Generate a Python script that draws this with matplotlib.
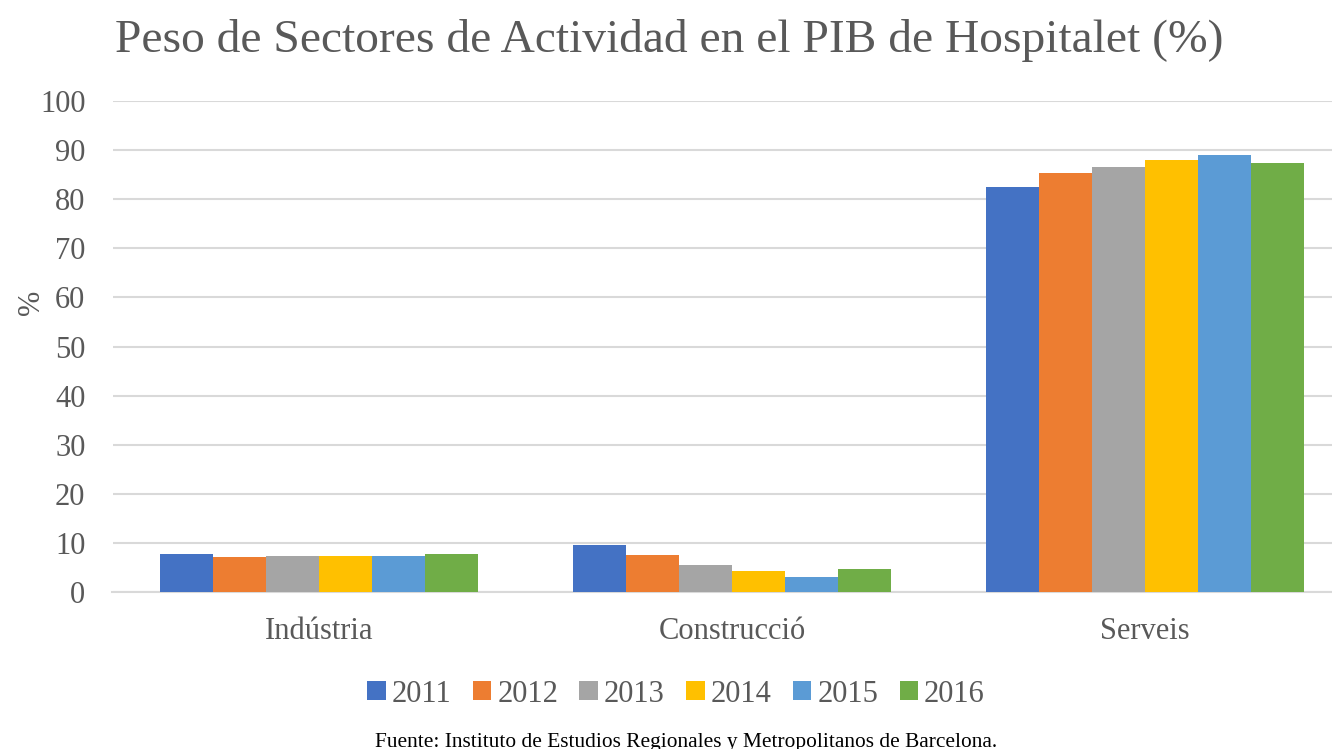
import numpy as np
import matplotlib.pyplot as plt

# Data
sectores = ["Indústria", "Construcció", "Serveis"]
anios = ["2011", "2012", "2013", "2014", "2015", "2016"]
v2011 = [7.7, 9.6, 82.4]
v2012 = [7.1, 7.5, 85.3]
v2013 = [7.4, 5.5, 86.5]
v2014 = [7.4, 4.3, 87.9]
v2015 = [7.4, 3.0, 89.0]
v2016 = [7.7, 4.6, 87.3]
series = [v2011, v2012, v2013, v2014, v2015, v2016]
colores = ["#4472c4", "#ed7d31", "#a5a5a5", "#ffc000", "#5b9bd5", "#70ad47"]

plt.rcParams['font.family'] = ['Liberation Serif', 'DejaVu Serif']

fig = plt.figure(figsize=(13.32, 7.49), dpi=100)
W, H = 1332, 749
# axes spans beyond the right edge (the reference is cropped there)
ax = fig.add_axes([112.5 / W, 1 - 592 / H, 1239 / W, 491 / H])

x = np.arange(len(sectores))
bw = 0.128
for i, (vals, col) in enumerate(zip(series, colores)):
    ax.bar(x + (i - 2.5) * bw, vals, width=bw, color=col, label=anios[i], zorder=3)

ax.set_xlim(-0.5, 2.5)
ax.set_ylim(0, 100)
ax.set_yticks(range(0, 101, 10))
ax.yaxis.grid(True, color="#d9d9d9", linewidth=1.5, zorder=0)
for s in ["top", "right", "left"]:
    ax.spines[s].set_visible(False)
ax.spines["bottom"].set_color("#d9d9d9")
ax.spines["bottom"].set_linewidth(1.5)
ax.tick_params(axis="both", length=0, labelsize=22, colors="#595959")
ax.tick_params(axis="y", pad=19.5)
ax.tick_params(axis="x", pad=18)
ax.set_xticks(x)
ax.set_xticklabels(sectores)

fig.text(32 / W, 1 - 302 / H, "%", rotation=90, ha="center", va="center",
         fontsize=22, color="#595959")

fig.text(115 / W, 1 - 40 / H, "Peso de Sectores de Actividad en el PIB de Hospitalet (%)",
         ha="left", va="center", fontsize=34.2, color="#595959")

leg = fig.legend(loc="center", bbox_to_anchor=(676 / W, 1 - 694 / H), ncol=6, frameon=False,
                 fontsize=22, handlelength=0.6, handleheight=0.6, handletextpad=0.2,
                 columnspacing=0.7, labelcolor="#595959")

fig.text(686 / W, 1 - 742 / H,
         "Fuente: Instituto de Estudios Regionales y Metropolitanos de Barcelona.",
         ha="center", va="center", fontsize=15.4, color="black")

fig.savefig("out.png", dpi=100)
